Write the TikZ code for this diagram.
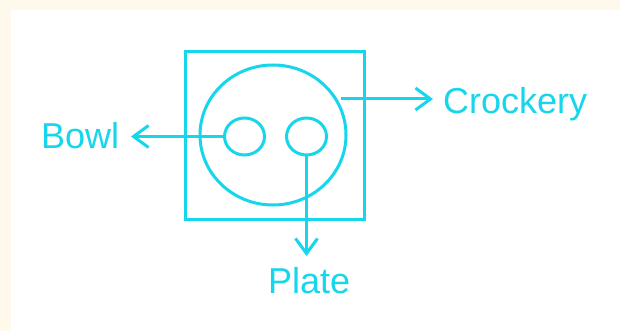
\documentclass[tikz,border=0pt]{standalone}
\usepackage{fontspec}
\setmainfont{Liberation Sans}
\usetikzlibrary{arrows.meta,shapes.geometric}
\definecolor{cy}{RGB}{22,214,236}
\definecolor{cream}{RGB}{255,248,236}
\begin{document}
\begin{tikzpicture}[x=1pt,y=-1pt,
  ln/.style={draw=cy,line width=3pt},
  arr/.style={ln,-{Straight Barb[length=15pt,width=22pt,line width=3pt]}},
  lbl/.style={text=cy,font=\fontsize{36}{40}\selectfont,inner sep=0pt}]
\useasboundingbox (0,0) rectangle (620,331);
\fill[cream] (0,0) rectangle (620,331);
\fill[white] (11,10) rectangle (620,331);
\node[ln,minimum width=179pt,minimum height=167pt,inner sep=0pt] (box) at (274.5,135.5) {};
\node[ln,ellipse,minimum width=146pt,minimum height=140pt,inner sep=0pt] (big) at (273,135) {};
\node[ln,ellipse,minimum width=40pt,minimum height=37pt,inner sep=0pt] (bowlc) at (244.5,136.5) {};
\node[ln,ellipse,minimum width=40pt,minimum height=37pt,inner sep=0pt] (platec) at (306.5,136.5) {};
\node[lbl,anchor=base west] (bowl) at (41,149) {Bowl};
\node[lbl,anchor=base west] (crock) at (443,114) {Crockery};
\node[lbl,anchor=base west] (plate) at (268,293) {Plate};
\coordinate (bowltip) at (131,136.5);
\coordinate (crockstart) at (341,99);
\coordinate (crocktip) at (433,99);
\coordinate (platetip) at (306.5,256);
\draw[arr] (bowlc.west) -- (bowltip);
\draw[arr] (crockstart) -- (crocktip);
\draw[arr] (platec.south) -- (platetip);
\end{tikzpicture}
\end{document}
